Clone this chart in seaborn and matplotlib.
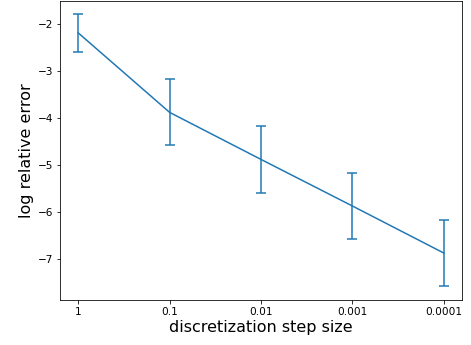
import numpy as np
import pandas as pd
import matplotlib
matplotlib.use('Agg')
import matplotlib.pyplot as plt
import seaborn as sns

step_labels = ['1', '0.1', '0.01', '0.001', '0.0001']
log_err_mean = [-2.2, -3.89, -4.89, -5.88, -6.88]
log_err_sd = [0.4, 0.7, 0.71, 0.71, 0.71]

df = pd.DataFrame({'step': step_labels, 'mean': log_err_mean, 'sd': log_err_sd})

fig = plt.figure(figsize=(471 / 72, 345 / 72), dpi=72)
ax = fig.add_axes([60 / 471, 45 / 345, 402 / 471, 299.5 / 345])

sns.lineplot(data=df, x='step', y='mean', sort=False, color='#1f77b4', ax=ax)
ax.errorbar(df['step'], df['mean'], yerr=df['sd'], fmt='none',
            ecolor='#1f77b4', capsize=5, elinewidth=1.5, capthick=1.5)

ax.set_xlabel('discretization step size', fontsize=16, labelpad=3)
ax.set_ylabel('log relative error', fontsize=16, labelpad=3)
ax.tick_params(labelsize=10.5)

fig.savefig('out.png', dpi=72)
